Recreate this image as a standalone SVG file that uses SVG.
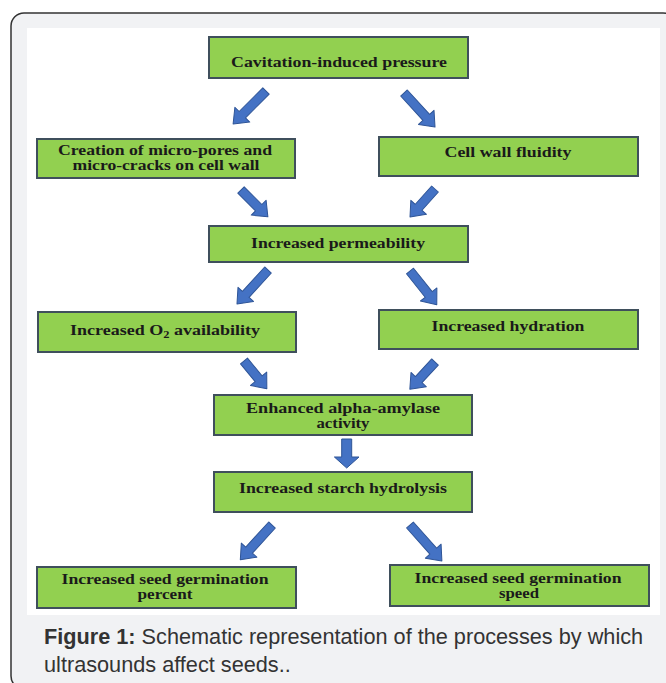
<svg xmlns="http://www.w3.org/2000/svg" width="666" height="683" viewBox="0 0 666 683">
<style>
.box{fill:#92d050;stroke:#3f4f5c;stroke-width:2}
.bt{font-family:"Liberation Serif","Times New Roman",serif;font-weight:bold;font-size:14.5px;fill:#1a1a1a;text-anchor:middle}
.arr{fill:#4472c4;stroke:#2f5597;stroke-width:1;stroke-linejoin:round}
.cap{font-family:"Liberation Sans",Arial,sans-serif;font-size:21.7px;fill:#333}
</style>
<rect x="0" y="0" width="666" height="683" fill="#ffffff"/>
<rect x="11" y="13" width="665" height="676" rx="13" ry="13" fill="#f1f2f4" stroke="#333" stroke-width="1.5"/>
<rect x="27" y="28" width="633" height="587" fill="#ffffff"/>

<g id="n1"><rect class="box" x="209" y="37" width="259" height="41"/><text class="bt" x="339" y="67" textLength="216" lengthAdjust="spacingAndGlyphs">Cavitation-induced pressure</text></g>
<g id="n2"><rect class="box" x="37" y="139" width="258" height="39"/><text class="bt" x="165" y="155" textLength="214" lengthAdjust="spacingAndGlyphs">Creation of micro-pores and</text><text class="bt" x="166" y="170" textLength="187" lengthAdjust="spacingAndGlyphs">micro-cracks on cell wall</text></g>
<g id="n3"><rect class="box" x="379" y="137" width="259" height="39"/><text class="bt" x="508" y="157" textLength="127" lengthAdjust="spacingAndGlyphs">Cell wall fluidity</text></g>
<g id="n4"><rect class="box" x="209" y="226" width="259" height="36"/><text class="bt" x="338" y="248" textLength="174" lengthAdjust="spacingAndGlyphs">Increased permeability</text></g>
<g id="n5"><rect class="box" x="38" y="312" width="258" height="40"/><text class="bt" x="165" y="335" textLength="190" lengthAdjust="spacingAndGlyphs">Increased O<tspan font-size="10" dy="3">2</tspan><tspan dy="-3"> availability</tspan></text></g>
<g id="n6"><rect class="box" x="379" y="310" width="259" height="39"/><text class="bt" x="508" y="331" textLength="153" lengthAdjust="spacingAndGlyphs">Increased hydration</text></g>
<g id="n7"><rect class="box" x="214" y="395" width="258" height="40"/><text class="bt" x="343" y="413" textLength="194" lengthAdjust="spacingAndGlyphs">Enhanced alpha-amylase</text><text class="bt" x="343" y="428" textLength="53" lengthAdjust="spacingAndGlyphs">activity</text></g>
<g id="n8"><rect class="box" x="214" y="472" width="258" height="40"/><text class="bt" x="343" y="493" textLength="208" lengthAdjust="spacingAndGlyphs">Increased starch hydrolysis</text></g>
<g id="n9"><rect class="box" x="37" y="567" width="259" height="41"/><text class="bt" x="165" y="584" textLength="207" lengthAdjust="spacingAndGlyphs">Increased seed germination</text><text class="bt" x="165" y="599" textLength="55" lengthAdjust="spacingAndGlyphs">percent</text></g>
<g id="n10"><rect class="box" x="390" y="565" width="259" height="41"/><text class="bt" x="518" y="583" textLength="207" lengthAdjust="spacingAndGlyphs">Increased seed germination</text><text class="bt" x="519" y="598" textLength="40" lengthAdjust="spacingAndGlyphs">speed</text></g>

<g id="connectors">
<g transform="translate(266,91) rotate(45)"><polygon class="arr" points="-4.5,0 4.5,0 4.5,33.5 10.5,33.5 0,46.5 -10.5,33.5 -4.5,33.5"/></g>
<g transform="translate(404,93) rotate(-42.4)"><polygon class="arr" points="-4.5,0 4.5,0 4.5,33 10.5,33 0,46 -10.5,33 -4.5,33"/></g>
<g transform="translate(241,190) rotate(-45)"><polygon class="arr" points="-4.5,0 4.5,0 4.5,25 10.5,25 0,38 -10.5,25 -4.5,25"/></g>
<g transform="translate(435,189) rotate(41.8)"><polygon class="arr" points="-4.5,0 4.5,0 4.5,24.5 10.5,24.5 0,37.5 -10.5,24.5 -4.5,24.5"/></g>
<g transform="translate(268,270) rotate(42.4)"><polygon class="arr" points="-4.5,0 4.5,0 4.5,33 10.5,33 0,46 -10.5,33 -4.5,33"/></g>
<g transform="translate(410,271) rotate(-38.5)"><polygon class="arr" points="-4.5,0 4.5,0 4.5,30 10.5,30 0,43 -10.5,30 -4.5,30"/></g>
<g transform="translate(244,361) rotate(-39.4)"><polygon class="arr" points="-4.5,0 4.5,0 4.5,23 10.5,23 0,36 -10.5,23 -4.5,23"/></g>
<g transform="translate(435,362) rotate(42.8)"><polygon class="arr" points="-4.5,0 4.5,0 4.5,24 10.5,24 0,37 -10.5,24 -4.5,24"/></g>
<polygon class="arr" points="341.7,439 351.7,439 351.7,457 359,457 346.7,468 334.4,457 341.7,457"/>
<g transform="translate(272,525) rotate(42.4)"><polygon class="arr" points="-4.5,0 4.5,0 4.5,34 10.5,34 0,47 -10.5,34 -4.5,34"/></g>
<g transform="translate(410,525) rotate(-41.6)"><polygon class="arr" points="-4.5,0 4.5,0 4.5,35 10.5,35 0,48 -10.5,35 -4.5,35"/></g>
</g>

<text class="cap" x="44" y="644"><tspan font-weight="bold">Figure 1:</tspan> Schematic representation of the processes by which</text>
<text class="cap" x="44" y="672">ultrasounds affect seeds..</text>
</svg>
